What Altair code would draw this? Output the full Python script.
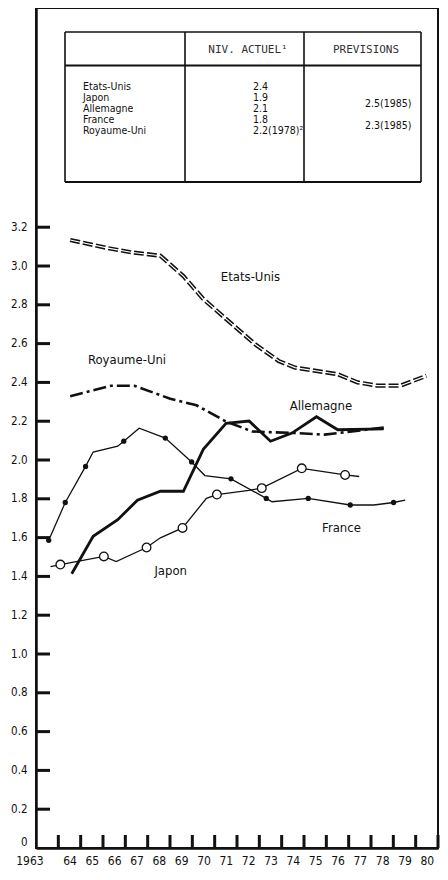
import altair as alt
import pandas as pd

# ---------------- data ----------------
us_years = [1964.53, 1966.22, 1967.25, 1968.57, 1969.60, 1970.49, 1971.66, 1972.84,
            1973.87, 1974.60, 1976.51, 1977.40, 1978.28, 1979.31, 1980.48]
us_vals = [3.134, 3.092, 3.071, 3.053, 2.948, 2.830, 2.712, 2.594,
           2.510, 2.476, 2.442, 2.400, 2.383, 2.383, 2.434]

uk_years = [1964.53, 1966.37, 1967.40, 1969.01, 1970.19, 1971.51, 1972.69, 1974.60,
            1975.92, 1978.57]
uk_vals = [2.329, 2.383, 2.383, 2.316, 2.282, 2.198, 2.147, 2.139, 2.131, 2.167]

de_years = [1964.60, 1965.56, 1966.66, 1967.54, 1968.57, 1969.60, 1970.49, 1971.51,
            1972.54, 1973.50, 1974.46, 1975.56, 1976.51, 1978.57]
de_vals = [1.414, 1.607, 1.692, 1.793, 1.839, 1.839, 2.055, 2.189,
           2.201, 2.097, 2.139, 2.223, 2.156, 2.160]

fr_years = [1963.57, 1964.31, 1965.22, 1965.56, 1966.66, 1966.93, 1967.62, 1968.79,
            1969.97, 1970.56, 1971.73, 1973.31, 1973.57, 1975.19, 1977.07, 1978.13,
            1979.01, 1979.53]
fr_vals = [1.586, 1.781, 1.967, 2.041, 2.071, 2.097, 2.164, 2.113,
           1.990, 1.920, 1.903, 1.802, 1.785, 1.802, 1.768, 1.768,
           1.781, 1.793]
fr_marked = [1, 1, 1, 0, 0, 1, 0, 1, 1, 0, 1, 1, 0, 1, 1, 0, 1, 0]

jp_years = [1963.65, 1964.09, 1966.04, 1966.59, 1967.95, 1968.57, 1969.56, 1970.63,
            1971.10, 1972.53, 1973.11, 1974.90, 1976.84, 1977.47]
jp_vals = [1.451, 1.461, 1.503, 1.476, 1.549, 1.599, 1.650, 1.802,
           1.822, 1.844, 1.855, 1.957, 1.923, 1.915]
jp_marked = [0, 1, 1, 0, 1, 0, 1, 0, 1, 0, 1, 1, 1, 0]

y_ticks = [0.2, 0.4, 0.6, 0.8, 1.0, 1.2, 1.4, 1.6, 1.8, 2.0, 2.2, 2.4, 2.6, 2.8, 3.0, 3.2]
y_labels = ["0", "0.2", "0.4", "0.6", "0.8", "1.0", "1.2", "1.4", "1.6", "1.8", "2.0",
            "2.2", "2.4", "2.6", "2.8", "3.0", "3.2"]
x_labels = ["1963", "64", "65", "66", "67", "68", "69", "70", "71", "72", "73", "74",
            "75", "76", "77", "78", "79", "80"]
x_tick_years = list(range(1964, 1982))

tbl_countries = ["Etats-Unis", "Japon", "Allemagne", "France", "Royaume-Uni"]
tbl_current = ["2.4", "1.9", "2.1", "1.8", "2.2(1978)²"]
tbl_forecast = ["", "2.5(1985)", "", "2.3(1985)", ""]
tbl_headers = ["NIV. ACTUEL¹", "PREVISIONS"]

# ---------------- chart ----------------
PL = 28
W, H = 402, 840
FONT = "DejaVu Sans Condensed, Liberation Sans Narrow, sans-serif"
INK = "#111111"

xs = alt.Scale(domain=[1963, 1981], nice=False, zero=False)
ys = alt.Scale(domain=[0, 4.33], nice=False, zero=True)

label_arr = "[" + ",".join("'%s'" % s for s in x_labels) + "]"
ylab_arr = "[" + ",".join("'%s'" % s for s in y_labels) + "]"

x_axis = alt.Axis(values=[1963.5 + i for i in range(len(x_labels))],
                  labelExpr=label_arr + "[round(datum.value - 1963.5)]",
                  tickSize=0, grid=False, domainColor=INK, domainWidth=2.5,
                  labelFont=FONT, labelFontSize=12, labelColor=INK, labelPadding=7,
                  labelAlign={"condition": {"test": "datum.value < 1964", "value": "right"},
                              "value": "center"},
                  labelOffset={"condition": {"test": "datum.value < 1964", "value": -4},
                               "value": 0})
y_axis = alt.Axis(values=[0] + y_ticks,
                  labelExpr=ylab_arr + "[round(datum.value * 5)]",
                  tickSize=0, grid=False, domainColor=INK, domainWidth=2.5,
                  labelFont=FONT, labelFontSize=11.5, labelColor=INK, labelPadding=9,
                  labelOffset={"condition": {"test": "datum.value == 0", "value": -6},
                               "value": 0})

XE = alt.X("yr:Q", scale=xs, title=None, axis=x_axis)
YE = alt.Y("v:Q", scale=ys, title=None, axis=y_axis)


def series(years, vals, marked=None):
    d = pd.DataFrame({"yr": years, "v": vals})
    d["m"] = marked if marked is not None else [0] * len(years)
    return d


us = series(us_years, us_vals)
uk = series(uk_years, uk_vals)
de = series(de_years, de_vals)
fr = series(fr_years, fr_vals, fr_marked)
jp = series(jp_years, jp_vals, jp_marked)

ytick_layer = alt.Chart(pd.DataFrame({"v": y_ticks})).mark_tick(
    color=INK, thickness=3, size=14, orient="horizontal", opacity=1).encode(
    y=YE, x=alt.value(7))
xtick_layer = alt.Chart(pd.DataFrame({"yr": x_tick_years})).mark_tick(
    color=INK, thickness=3, size=13, orient="vertical", opacity=1).encode(
    x=XE, y=alt.value(H - 6.5))


def enc(ch):
    return ch.encode(x=XE, y=YE)


us_dark = enc(alt.Chart(us).mark_line(color=INK, strokeWidth=4.2, strokeDash=[10, 3]))
us_light = enc(alt.Chart(us).mark_line(color="white", strokeWidth=1.2))
uk_line = enc(alt.Chart(uk).mark_line(color=INK, strokeWidth=2.6, strokeDash=[13, 4, 3, 4]))
de_line = enc(alt.Chart(de).mark_line(color=INK, strokeWidth=2.8))
fr_line = enc(alt.Chart(fr).mark_line(color=INK, strokeWidth=1.3))
fr_pts = enc(alt.Chart(fr).transform_filter("datum.m == 1").mark_point(
    shape="circle", filled=True, color=INK, size=28, opacity=1))
jp_line = enc(alt.Chart(jp).mark_line(color=INK, strokeWidth=1.3))
jp_pts = enc(alt.Chart(jp).transform_filter("datum.m == 1").mark_point(
    shape="circle", filled=True, fill="white", stroke=INK, strokeWidth=1.3, size=75, opacity=1))

one = pd.DataFrame({"a": [0]})


def txt(s, px, py, size=13, align="center", font=FONT, color=INK):
    return alt.Chart(one).mark_text(text=s, align=align, baseline="middle", fontSize=size,
                                    font=font, color=color).encode(
        x=alt.value(px), y=alt.value(py))


DX = -(8 + PL)  # page x -> plot x
DY = -8         # page y -> plot y
labels = [
    txt("Etats-Unis", 250.5 + DX, 277 + DY),
    txt("Royaume-Uni", 127 + DX, 359.5 + DY),
    txt("Allemagne", 321 + DX, 406 + DY),
    txt("France", 341.5 + DX, 528 + DY),
    txt("Japon", 170.7 + DX, 571 + DY),
]

# table frame
TL, TR, TT, TB = 65 + DX, 421 + DX, 32 + DY, 182 + DY
C1, C2, HS = 185 + DX, 304 + DX, 65.5 + DY


def hrule(y, x1, x2, w=1.6):
    return alt.Chart(one).mark_rule(color=INK, strokeWidth=w).encode(
        x=alt.value(x1), x2=alt.value(x2), y=alt.value(y))


def vrule(x, y1, y2, w=1.6):
    return alt.Chart(one).mark_rule(color=INK, strokeWidth=w).encode(
        x=alt.value(x), y=alt.value(y1), y2=alt.value(y2))


table = [hrule(TT, TL, TR), hrule(TB, TL, TR, 2), hrule(HS, TL, TR, 2),
         vrule(TL, TT, TB), vrule(TR, TT, TB), vrule(C1, TT, TB), vrule(C2, TT, TB)]
HFONT = "DejaVu Sans Mono, monospace"
table.append(txt(tbl_headers[0], 248 + DX, 50 + DY, size=11, font=HFONT, color="#333333"))
table.append(txt(tbl_headers[1], 366 + DX, 50 + DY, size=11, font=HFONT, color="#333333"))
for i, (c, n, p) in enumerate(zip(tbl_countries, tbl_current, tbl_forecast)):
    yy = 86.7 + DY + 11.1 * i
    table.append(txt(c, 83 + DX, yy, size=10.5, align="left"))
    table.append(txt(n, 253 + DX, yy, size=10.5, align="left"))
    if p:
        table.append(txt(p, 365 + DX, yy + 6, size=10.5, align="left"))

chart = alt.layer(
    *table, ytick_layer, xtick_layer,
    us_dark, us_light, uk_line, de_line, fr_line, jp_line, fr_pts, jp_pts, *labels
).properties(
    width=W, height=H,
    autosize="none",
    padding={"left": PL, "top": 0, "right": 2, "bottom": 24},
    background="white",
).configure_view(stroke=INK, strokeWidth=2)

chart.save("out.html", embed_options={"renderer": "svg", "actions": False})
